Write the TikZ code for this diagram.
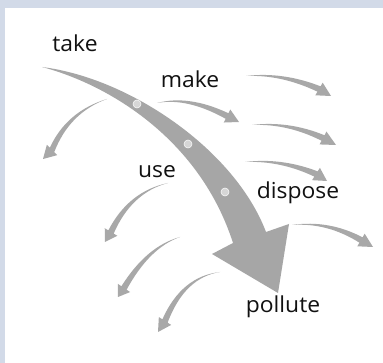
\documentclass[tikz,border=0pt]{standalone}
\usepackage{fontspec}
\setmainfont{Open Sans}
\usetikzlibrary{calc}
\definecolor{arrgray}{HTML}{A8A8A8}
\definecolor{maingray}{HTML}{A6A6A6}
\definecolor{dotgray}{HTML}{D6D6D6}
\definecolor{bandblue}{HTML}{D2DAE8}
\definecolor{txt}{HTML}{111111}
\tikzset{
  arr/.style={fill=arrgray},
  mainarr/.style={fill=maingray},
  stagedot/.style={circle, fill=dotgray, draw=white!85!dotgray, line width=0.6pt, minimum size=8pt, inner sep=0pt},
  lbl/.style={text=txt, font=\fontsize{22}{25}\selectfont, inner sep=0pt}
}
\newcommand{\sarrow}[4]{%
  \path ($(#2)!1.6pt!90:(#3)$) coordinate (cp) ($(#2)!1.6pt!-90:(#3)$) coordinate (cm)
        ($(#3)!3.1pt!90:(#4)$) coordinate (ep) ($(#3)!3.1pt!-90:(#4)$) coordinate (em)
        ($(#3)!7.3pt!90:(#4)$) coordinate (hp) ($(#3)!7.3pt!-90:(#4)$) coordinate (hm);
  \fill[arr] (#1) .. controls ($(#1)!0.667!(cp)$) and ($(ep)!0.667!(cp)$) .. (ep)
     -- (hp) -- (#4) -- (hm) -- (em)
     .. controls ($(em)!0.667!(cm)$) and ($(#1)!0.667!(cm)$) .. (#1) -- cycle;
}
\begin{document}
\begin{tikzpicture}[x=1pt,y=-1pt]
\useasboundingbox (0,0) rectangle (383,363);
\fill[bandblue] (0,0) rectangle (383,363);
\fill[white] (5,8) rectangle (383,363);

% main arrow
\coordinate (ms) at (42,67);
\coordinate (mo) at (266,232);
\coordinate (mhr) at (289,224);
\coordinate (mt) at (278,293);
\coordinate (mhl) at (212,254);
\coordinate (mi) at (233,243);
\fill[mainarr] (ms) .. controls (130,78) and (235,150) .. (mo) -- (mhr) -- (mt) -- (mhl) -- (mi)
   .. controls (200,140) and (110,85) .. (ms) -- cycle;
\node[stagedot] (d1) at (137,104) {};
\node[stagedot] (d2) at (188,144) {};
\node[stagedot] (d3) at (225,192) {};

% small arrows: start, control, head base, tip
\coordinate (a1s) at (107,99);  \coordinate (a1c) at (68,112);  \coordinate (a1e) at (52,150);  \coordinate (a1t) at (43,159);
\coordinate (a2s) at (157,103); \coordinate (a2c) at (188,96);  \coordinate (a2e) at (227,116); \coordinate (a2t) at (239,122);
\coordinate (a3s) at (246,76);  \coordinate (a3c) at (282,73);  \coordinate (a3e) at (319,89);  \coordinate (a3t) at (331,96);
\coordinate (a4s) at (252,125); \coordinate (a4c) at (288,122); \coordinate (a4e) at (323,138); \coordinate (a4t) at (336,145);
\coordinate (a5s) at (245,162); \coordinate (a5c) at (281,159); \coordinate (a5e) at (316,174); \coordinate (a5t) at (327,181);
\coordinate (a6s) at (292,225); \coordinate (a6c) at (328,221); \coordinate (a6e) at (361,240); \coordinate (a6t) at (373,247);
\coordinate (a7s) at (168,183); \coordinate (a7c) at (130,192); \coordinate (a7e) at (111,232); \coordinate (a7t) at (105,242);
\coordinate (a8s) at (180,237); \coordinate (a8c) at (148,247); \coordinate (a8e) at (124,288); \coordinate (a8t) at (118,297);
\coordinate (a9s) at (220,272); \coordinate (a9c) at (183,277); \coordinate (a9e) at (165,321); \coordinate (a9t) at (158,332);
\sarrow{a1s}{a1c}{a1e}{a1t}
\sarrow{a2s}{a2c}{a2e}{a2t}
\sarrow{a3s}{a3c}{a3e}{a3t}
\sarrow{a4s}{a4c}{a4e}{a4t}
\sarrow{a5s}{a5c}{a5e}{a5t}
\sarrow{a6s}{a6c}{a6e}{a6t}
\sarrow{a7s}{a7c}{a7e}{a7t}
\sarrow{a8s}{a8c}{a8e}{a8t}
\sarrow{a9s}{a9c}{a9e}{a9t}

% labels
\node[lbl] (take) at (75,43) {\scalebox{1.04}[1]{take}};
\node[lbl] (make) at (190,79) {\scalebox{1.04}[1]{make}};
\node[lbl] (use) at (157,172) {\scalebox{1.04}[1]{use}};
\node[lbl] (dispose) at (298,193) {\scalebox{1.04}[1]{dispose}};
\node[lbl] (pollute) at (283,307) {\scalebox{1.04}[1]{pollute}};
\end{tikzpicture}
\end{document}
